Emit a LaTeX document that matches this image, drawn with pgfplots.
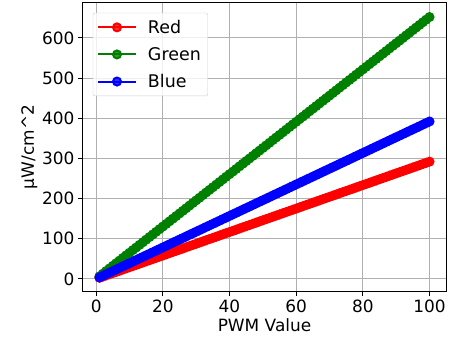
\documentclass[border=0pt]{standalone}
\usepackage{pgfplots}
\usepackage{pgfplotstable}
\pgfplotsset{compat=1.18}
\usepackage{fontspec}
\setmainfont{DejaVu Sans}
\definecolor{mplgreen}{RGB}{0,128,0}
\pgfplotstableread{
x r g b
1 2.9 6.5 3.9
2 5.8 13.0 7.8
3 8.8 19.6 11.8
4 11.7 26.1 15.7
5 14.6 32.6 19.6
6 17.5 39.1 23.5
7 20.4 45.6 27.4
8 23.4 52.2 31.4
9 26.3 58.7 35.3
10 29.2 65.2 39.2
11 32.1 71.7 43.1
12 35.0 78.2 47.0
13 38.0 84.8 51.0
14 40.9 91.3 54.9
15 43.8 97.8 58.8
16 46.7 104.3 62.7
17 49.6 110.8 66.6
18 52.6 117.4 70.6
19 55.5 123.9 74.5
20 58.4 130.4 78.4
21 61.3 136.9 82.3
22 64.2 143.4 86.2
23 67.2 150.0 90.2
24 70.1 156.5 94.1
25 73.0 163.0 98.0
26 75.9 169.5 101.9
27 78.8 176.0 105.8
28 81.8 182.6 109.8
29 84.7 189.1 113.7
30 87.6 195.6 117.6
31 90.5 202.1 121.5
32 93.4 208.6 125.4
33 96.4 215.2 129.4
34 99.3 221.7 133.3
35 102.2 228.2 137.2
36 105.1 234.7 141.1
37 108.0 241.2 145.0
38 111.0 247.8 149.0
39 113.9 254.3 152.9
40 116.8 260.8 156.8
41 119.7 267.3 160.7
42 122.6 273.8 164.6
43 125.6 280.4 168.6
44 128.5 286.9 172.5
45 131.4 293.4 176.4
46 134.3 299.9 180.3
47 137.2 306.4 184.2
48 140.2 313.0 188.2
49 143.1 319.5 192.1
50 146.0 326.0 196.0
51 148.9 332.5 199.9
52 151.8 339.0 203.8
53 154.8 345.6 207.8
54 157.7 352.1 211.7
55 160.6 358.6 215.6
56 163.5 365.1 219.5
57 166.4 371.6 223.4
58 169.4 378.2 227.4
59 172.3 384.7 231.3
60 175.2 391.2 235.2
61 178.1 397.7 239.1
62 181.0 404.2 243.0
63 184.0 410.8 247.0
64 186.9 417.3 250.9
65 189.8 423.8 254.8
66 192.7 430.3 258.7
67 195.6 436.8 262.6
68 198.6 443.4 266.6
69 201.5 449.9 270.5
70 204.4 456.4 274.4
71 207.3 462.9 278.3
72 210.2 469.4 282.2
73 213.2 476.0 286.2
74 216.1 482.5 290.1
75 219.0 489.0 294.0
76 221.9 495.5 297.9
77 224.8 502.0 301.8
78 227.8 508.6 305.8
79 230.7 515.1 309.7
80 233.6 521.6 313.6
81 236.5 528.1 317.5
82 239.4 534.6 321.4
83 242.4 541.2 325.4
84 245.3 547.7 329.3
85 248.2 554.2 333.2
86 251.1 560.7 337.1
87 254.0 567.2 341.0
88 257.0 573.8 345.0
89 259.9 580.3 348.9
90 262.8 586.8 352.8
91 265.7 593.3 356.7
92 268.6 599.8 360.6
93 271.6 606.4 364.6
94 274.5 612.9 368.5
95 277.4 619.4 372.4
96 280.3 625.9 376.3
97 283.2 632.4 380.2
98 286.2 639.0 384.2
99 289.1 645.5 388.1
100 292.0 652.0 392.0
}\datatable
\begin{document}
\begin{tikzpicture}
\begin{axis}[
  scale only axis,
  width=363bp, height=288bp,
  xmin=-3.95, xmax=104.95,
  ymin=-30, ymax=687,
  xtick={0,20,40,60,80,100},
  ytick={0,100,200,300,400,500,600},
  tick align=outside,
  tick pos=left,
  major tick length=5bp,
  every tick/.style={black, line width=1bp},
  axis line style={line width=1bp},
  grid=major,
  grid style={color=black!31, line width=1bp},
  tick label style={font=\fontsize{17}{20}\selectfont},
  label style={font=\fontsize{17}{20}\selectfont},
  /pgf/number format/assume math mode=true,
  xlabel={PWM Value},
  ylabel={µW/cm\textasciicircum 2},
  ylabel style={yshift=-2bp},
  xlabel style={yshift=1bp},
  legend style={at={(0.027,0.966)}, anchor=north west,
    nodes={font=\fontsize{17.5}{20}\selectfont, inner sep=3bp},
    draw=black!20, fill=white, fill opacity=0.8, text opacity=1, rounded corners=2bp,
    row sep=6.5bp, inner sep=4bp,
    /tikz/every odd column/.append style={column sep=8bp}},
  legend cell align=left,
  legend image code/.code={\draw[mark repeat=2,mark phase=2] plot coordinates {(0bp,0bp)(19bp,0bp)(38bp,0bp)};},
]
\addplot[red, line width=2bp, mark=*, mark size=4bp] table[x=x,y=r] {\datatable};
\addlegendentry{Red}
\addplot[mplgreen, line width=2bp, mark=*, mark size=4bp] table[x=x,y=g] {\datatable};
\addlegendentry{Green}
\addplot[blue, line width=2bp, mark=*, mark size=4bp] table[x=x,y=b] {\datatable};
\addlegendentry{Blue}
\end{axis}
\path (current axis.south west) ++(-83bp,-54bp) coordinate (bl);
\path (current axis.north east) ++(8bp,3bp) coordinate (tr);
\pgfresetboundingbox
\useasboundingbox (bl) rectangle (tr);
\end{tikzpicture}
\end{document}
